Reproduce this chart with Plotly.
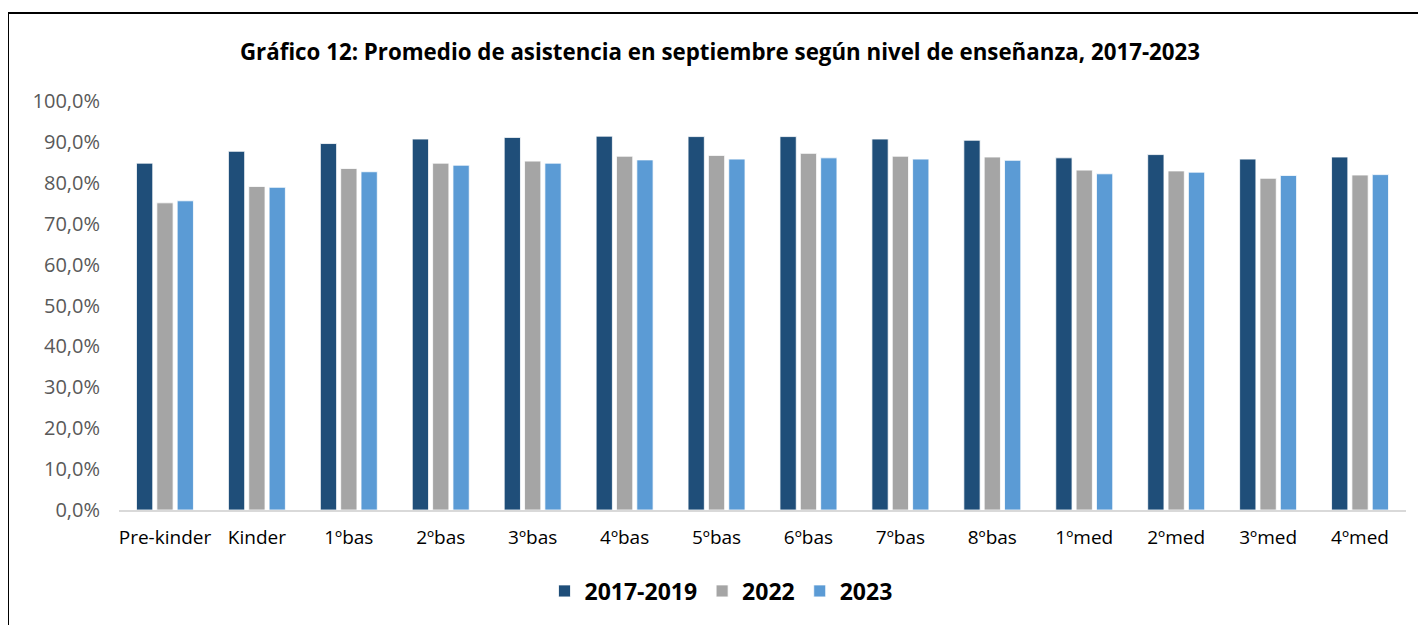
import plotly.graph_objects as go

niveles = ["Pre-kinder", "Kinder", "1ºbas", "2ºbas", "3ºbas", "4ºbas", "5ºbas",
           "6ºbas", "7ºbas", "8ºbas", "1ºmed", "2ºmed", "3ºmed", "4ºmed"]

asis_2017_2019 = [84.8, 87.7, 89.6, 90.7, 91.1, 91.4, 91.3,
                  91.3, 90.7, 90.4, 86.1, 86.9, 85.8, 86.3]
asis_2022 = [75.1, 79.1, 83.5, 84.8, 85.3, 86.5, 86.7,
             87.2, 86.5, 86.3, 83.1, 82.9, 81.1, 81.9]
asis_2023 = [75.6, 78.9, 82.7, 84.3, 84.8, 85.6, 85.8,
             86.1, 85.8, 85.5, 82.2, 82.6, 81.8, 82.0]

series = [
    ("2017-2019", asis_2017_2019, "#1F4E79"),
    ("2022", asis_2022, "#A5A5A5"),
    ("2023", asis_2023, "#5B9BD5"),
]

fig = go.Figure()

for nombre, valores, color in series:
    fig.add_trace(
        go.Bar(
            x=niveles,
            y=[v / 100 for v in valores],
            name="<b>" + nombre + "</b>",
            marker=dict(color=color, line=dict(color="white", width=0.8)),
        )
    )

# the page body has an 8px margin, so the figure is 8px smaller
fig.update_layout(
    width=1418,
    height=617,
    barmode="group",
    bargap=0.336,
    bargroupgap=0.2,
    plot_bgcolor="white",
    paper_bgcolor="white",
    font=dict(family="Open Sans", color="black"),
    separators=",.",
    title=dict(
        text="<b>Gráfico 12: Promedio de asistencia en septiembre según nivel de enseñanza, 2017-2023</b>",
        x=(720 - 8) / 1418,
        xanchor="center",
        y=1 - 44 / 617,
        yanchor="middle",
        font=dict(size=22.3, color="black"),
    ),
    margin=dict(l=111, r=20, t=93, b=115),
    xaxis=dict(
        showline=True,
        linecolor="#D9D9D9",
        linewidth=2,
        ticks="",
        ticklabelstandoff=9,
        tickfont=dict(size=19, color="black"),
    ),
    yaxis=dict(
        range=[0, 1],
        dtick=0.1,
        tickformat=".1%",
        showgrid=False,
        zeroline=False,
        ticklabelstandoff=18,
        tickfont=dict(size=20, color="#595959"),
    ),
    legend=dict(
        orientation="h",
        x=(721 - 119) / 1287,
        xanchor="center",
        y=(502 - 583) / 409,
        yanchor="middle",
        font=dict(size=23, color="black"),
        traceorder="normal",
    ),
    shapes=[
        dict(type="line", xref="paper", yref="paper",
             x0=-111 / 1287, x1=(1418 - 111) / 1287,
             y0=497 / 409, y1=497 / 409,
             line=dict(color="black", width=2)),
        dict(type="line", xref="paper", yref="paper",
             x0=-111 / 1287, x1=-111 / 1287,
             y0=497 / 409, y1=(502 - 640) / 409,
             line=dict(color="black", width=2)),
    ],
)

fig.write_html("out.html")
